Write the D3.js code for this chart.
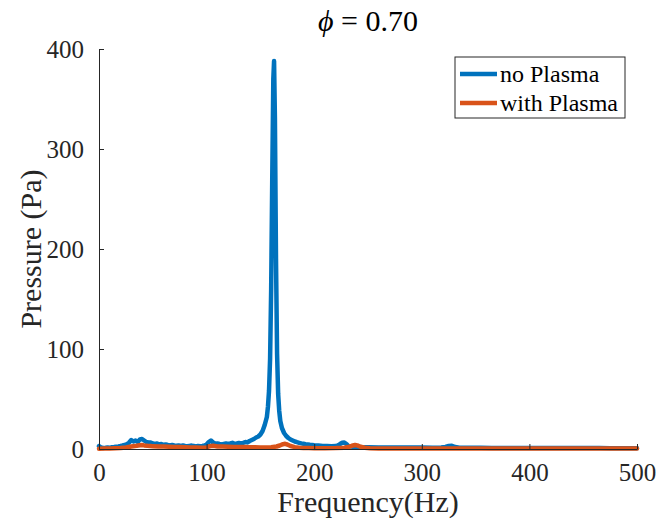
<!DOCTYPE html>
<html>
<head>
<meta charset="utf-8">
<script src="https://cdn.jsdelivr.net/npm/d3@7"></script>
<style>
  body { margin: 0; background: #fff; }
  text { font-family: "Liberation Serif", "Times New Roman", serif; fill: #262626; }
  .axis path, .axis line { stroke: #262626; }
</style>
</head>
<body>
<div class="chart"></div>
<script>
// spectrum without plasma (Hz, Pa)
const freqNoPlasma = [0,2,4,6,8,10,12,14,16,18,20,22,24,26,28,30,32,34,36,38,40,42,44,46,48,50,52,54,56,58,60,62,64,66,68,70,72,74,76,78,80,82,84,86,88,90,92,94,96,98,100,102,104,106,108,110,112,114,116,118,120,122,124,126,128,130,132,134,136,138,140,142,144,146,148,150,152,154,156,157,158,159,160,161,162,162.7,163.5,164.5,165.5,166.5,167.5,168.5,170,172,174,176,178,180,182,184,186,188,190,192,194,196,198,200,204,208,212,216,220,222,224,226,228,230,232,236,240,245,250,260,270,280,290,300,310,318,322,325,328,331,335,345,355,365,375,385,395,405,415,425,435,445,455,465,475,485,500];
const presNoPlasma = [3,1.5,1,1.2,1.5,1.2,1.8,2,2.3,2.6,3,3.5,4.2,4.8,6.5,9,7.5,8.5,7,9.5,10,8.5,7,6.5,6.5,5.5,5,5.5,4.5,5,4.2,4.5,4,3.6,4,3.5,3.2,3.6,3.1,3.5,3,2.8,3.1,3.4,3,2.6,3,2.8,3.1,3.5,4.5,7,8.5,6.5,5.2,5.6,5,4.6,5.1,5.6,5,5.5,6.2,5.2,5.6,6.1,5.6,6.2,7,6.6,8,9,10,11.5,12.5,14.5,18,24,32,42,58,90,160,270,370,388,330,190,95,55,38,28,21,16,13,11,9.5,8.5,7.5,6.8,6.2,5.6,5.2,4.8,4.5,4.2,4,3.7,3.4,3.1,2.9,2.7,2.9,3.5,5,6.2,6.5,5,2.8,2.2,2,1.8,1.7,1.6,1.5,1.5,1.4,1.4,1.3,1.4,2,3,3.2,2,1.3,1.2,1.2,1.1,1.1,1,1,1,0.9,0.9,1,0.9,0.9,0.9,0.8,0.8,0.8];

// spectrum with plasma (Hz, Pa)
const freqPlasma = [0,5,10,15,20,25,30,35,38,40,42,45,50,55,60,65,70,75,80,85,90,95,100,103,106,110,115,120,125,130,135,140,145,150,155,160,165,168,171,173,175,178,182,186,190,195,200,210,220,228,232,235,238,240,243,247,252,260,280,300,320,340,360,380,400,420,440,460,470,480,490,500];
const presPlasma = [0.3,0.4,0.5,0.7,1,1.6,2.4,3.2,3.8,4,3.6,3.2,2.8,2.5,2.4,2.2,2,1.9,1.7,1.6,1.4,1.3,1.5,2.8,3.2,2.6,2.4,2.2,2.1,2,1.9,1.8,1.7,1.6,1.6,1.8,2.5,3.5,4.8,5.2,4.5,3,1.8,1.2,1,0.9,0.8,0.8,0.9,1.2,2,3.2,4,3.6,2.2,1.2,0.8,0.6,0.5,0.5,0.5,0.4,0.4,0.4,0.4,0.4,0.4,0.5,0.6,0.5,0.4,0.4];

const xTicks = [0,100,200,300,400,500];
const yTicks = [0,100,200,300,400];
const seriesNames = ['no Plasma','with Plasma'];
const seriesColors = ['#0072BD','#D95319'];

const margin = {top:49, right:22, bottom:77, left:99},
      width = 659 - margin.left - margin.right,
      height = 526 - margin.top - margin.bottom;

const x = d3.scaleLinear().domain([0,500]).range([0,width]);
const y = d3.scaleLinear().domain([0,400]).range([height,0]);

const svg = d3.select('.chart')
    .append('svg')
    .attr('width', 659)
    .attr('height', 526);

const g = svg.append('g')
    .attr('transform','translate(' + margin.left + ',' + margin.top + ')');

const line = d3.line()
    .x(d => x(d[0]))
    .y(d => y(d[1]));

const series = [
    d3.zip(freqNoPlasma, presNoPlasma),
    d3.zip(freqPlasma, presPlasma)
];

series.forEach((s,i) => {
    g.append('path')
        .datum(s)
        .attr('fill','none')
        .attr('stroke', seriesColors[i])
        .attr('stroke-width', 4.5)
        .attr('stroke-linejoin','round')
        .attr('stroke-linecap','round')
        .attr('d', line);
});

// axes, ticks pointing inward
g.append('g')
    .attr('class','axis')
    .attr('transform','translate(0,' + height + ')')
    .call(d3.axisBottom(x).tickValues(xTicks).tickSizeInner(-5).tickSizeOuter(0).tickPadding(14));

g.append('g')
    .attr('class','axis')
    .call(d3.axisLeft(y).tickValues(yTicks).tickSizeInner(-5).tickSizeOuter(0).tickPadding(15));

svg.selectAll('.axis')
    .attr('font-family','"Liberation Serif", serif');
svg.selectAll('.axis text')
    .style('font-size','25px')
    .style('font-family','"Liberation Serif", serif')
    .attr('fill','#262626');

// titles
svg.append('text')
    .attr('x', margin.left + width/2)
    .attr('y', 31)
    .attr('text-anchor','middle')
    .style('font-size','30px')
    .style('fill','#000')
    .call(t => {
        t.append('tspan').style('font-style','italic').text('ϕ');
        t.append('tspan').text(' = 0.70');
    });

svg.append('text')
    .attr('x', margin.left + width/2)
    .attr('y', 512)
    .attr('text-anchor','middle')
    .style('font-size','30px')
    .text('Frequency(Hz)');

svg.append('text')
    .attr('transform','translate(41,' + (margin.top + height/2) + ') rotate(-90)')
    .attr('text-anchor','middle')
    .style('font-size','30px')
    .text('Pressure (Pa)');

// legend
const legend = svg.append('g').attr('transform','translate(455,57)');
legend.append('rect')
    .attr('width',170).attr('height',61)
    .attr('fill','#fff').attr('stroke','#262626').attr('stroke-width',1);
seriesNames.forEach((name,i) => {
    const ly = 17 + i*29;
    legend.append('line')
        .attr('x1',5).attr('x2',42).attr('y1',ly).attr('y2',ly)
        .attr('stroke',seriesColors[i]).attr('stroke-width',4.5);
    legend.append('text')
        .attr('x',45).attr('y',ly+8)
        .style('font-size','24px')
        .style('fill','#000')
        .text(name);
});
</script>
</body>
</html>
